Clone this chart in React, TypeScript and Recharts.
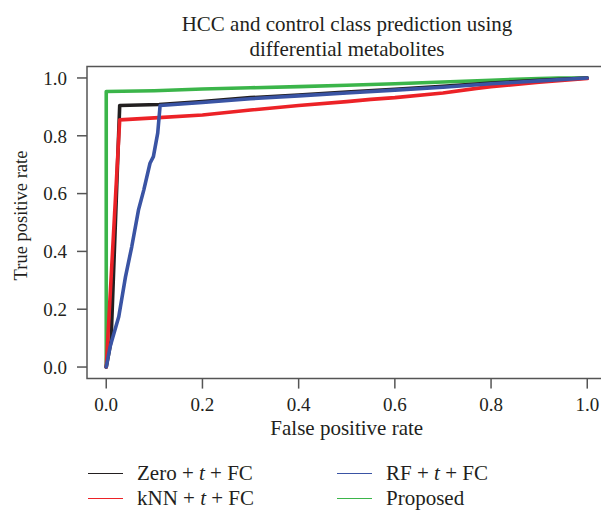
import { LineChart, Line, XAxis, YAxis, ReferenceArea } from "recharts";

// ROC curves (x = false positive rate, y = true positive rate)
const zeroFpr = [0, 0.01, 0.028, 0.11, 0.2, 0.3, 0.4, 0.5, 0.6, 0.7, 0.8, 0.9, 1];
const zeroTpr = [0, 0.09, 0.905, 0.908, 0.918, 0.932, 0.941, 0.951, 0.961, 0.971, 0.982, 0.992, 1];

const knnFpr = [0, 0.028, 0.1, 0.2, 0.3, 0.4, 0.5, 0.55, 0.6, 0.7, 0.77, 0.8, 0.9, 1];
const knnTpr = [0, 0.855, 0.862, 0.872, 0.889, 0.905, 0.918, 0.926, 0.932, 0.948, 0.964, 0.97, 0.985, 0.998];

const rfFpr = [0, 0.008, 0.026, 0.04, 0.053, 0.067, 0.078, 0.091, 0.098, 0.107, 0.112, 0.2, 0.3, 0.4, 0.5, 0.6, 0.7, 0.8, 0.9, 1];
const rfTpr = [0, 0.07, 0.174, 0.312, 0.416, 0.543, 0.612, 0.705, 0.728, 0.809, 0.905, 0.915, 0.928, 0.938, 0.948, 0.958, 0.968, 0.98, 0.99, 1];

const propFpr = [0, 0, 0.1, 0.2, 0.3, 0.4, 0.5, 0.6, 0.7, 0.8, 0.9, 0.94, 1];
const propTpr = [0, 0.953, 0.956, 0.962, 0.966, 0.97, 0.975, 0.98, 0.986, 0.992, 0.998, 1, 1];

const xTicks = [0, 0.2, 0.4, 0.6, 0.8, 1];
const yTicks = [0, 0.2, 0.4, 0.6, 0.8, 1];

const SERIF = '"Liberation Serif", "DejaVu Serif", serif';
const INK = "#231F20";
const BOX = "#555";

function toPoints(xs: number[], ys: number[]) {
  return xs.map((x, i) => ({ x, y: ys[i] }));
}

const series = [
  { key: "zero", label: ["Zero + ", "t", " + FC"], color: "#231F20", data: toPoints(zeroFpr, zeroTpr) },
  { key: "knn", label: ["kNN + ", "t", " + FC"], color: "#EC2227", data: toPoints(knnFpr, knnTpr) },
  { key: "rf", label: ["RF + ", "t", " + FC"], color: "#3A54A4", data: toPoints(rfFpr, rfTpr) },
  { key: "prop", label: ["Proposed"], color: "#3BB54A", data: toPoints(propFpr, propTpr) },
];

// draw order: green first, then black, red, blue on top
const drawOrder = ["prop", "zero", "knn", "rf"];

const fmt = (v: number) => v.toFixed(1);

function YTitle({ viewBox }: any) {
  const cx = 20.5;
  const cy = viewBox.y + viewBox.height / 2 - 7;
  return (
    <text
      x={cx}
      y={cy}
      dy="0.35em"
      transform={`rotate(-90 ${cx} ${cy})`}
      textAnchor="middle"
      fontFamily={SERIF}
      fontSize={18.5}
      fill={INK}
    >
      True positive rate
    </text>
  );
}

function LegendItem({ s }: { s: (typeof series)[number] }) {
  return (
    <div style={{ display: "flex", alignItems: "center", height: 25 }}>
      <div style={{ width: 35, height: 1.5, background: s.color, marginRight: 14 }} />
      <span>
        {s.label.map((part, i) =>
          part === "t" ? <i key={i}>t</i> : <span key={i}>{part}</span>
        )}
      </span>
    </div>
  );
}

export default function App() {
  const byKey = (k: string) => series.find((s) => s.key === k)!;
  return (
    <div
      style={{
        position: "absolute",
        left: 0,
        top: 0,
        width: 601,
        height: 511,
        overflow: "hidden",
        background: "#fff",
        fontFamily: SERIF,
        color: INK,
      }}
    >
      <div
        style={{
          position: "absolute",
          left: 147,
          top: 12,
          width: 400,
          textAlign: "center",
          fontSize: 21,
          lineHeight: "25px",
        }}
      >
        HCC and control class prediction using
        <br />
        differential metabolites
      </div>

      <LineChart
        width={620}
        height={511}
        margin={{ top: 66.4, right: 13.5, bottom: 72.4, left: 0 }}
        style={{ position: "absolute", left: 0, top: 0 }}
      >
        <XAxis
          dataKey="x"
          type="number"
          domain={[-0.04, 1.04]}
          ticks={xTicks}
          tickFormatter={fmt}
          axisLine={false}
          tickSize={10}
          tickMargin={9}
          tickLine={{ stroke: BOX, strokeWidth: 1.5 }}
          tick={{ fontFamily: SERIF, fontSize: 19, fill: INK }}
          height={60}
          allowDataOverflow
          label={{
            value: "False positive rate",
            position: "insideBottom",
            offset: 3.6,
            fontFamily: SERIF,
            fontSize: 21,
            fill: INK,
          }}
        />
        <YAxis
          dataKey="y"
          type="number"
          domain={[-0.04, 1.04]}
          ticks={yTicks}
          tickFormatter={fmt}
          axisLine={false}
          tickSize={10}
          tickMargin={10}
          tickLine={{ stroke: BOX, strokeWidth: 1.5 }}
          tick={{ fontFamily: SERIF, fontSize: 19, fill: INK }}
          width={87}
          allowDataOverflow
          label={<YTitle />}
        />
        <ReferenceArea
          x1={-0.04}
          x2={1.04}
          y1={-0.04}
          y2={1.04}
          fill="none"
          stroke={BOX}
          strokeWidth={1.5}
          ifOverflow="visible"
        />
        {drawOrder.map((k) => {
          const s = byKey(k);
          return (
            <Line
              key={s.key}
              data={s.data}
              dataKey="y"
              type="linear"
              stroke={s.color}
              strokeWidth={3.6}
              strokeLinejoin="round"
              strokeLinecap="round"
              dot={false}
              isAnimationActive={false}
            />
          );
        })}
      </LineChart>

      <div
        style={{
          position: "absolute",
          left: 88,
          top: 461,
          display: "grid",
          gridTemplateColumns: "249px auto",
          gridTemplateRows: "25px 25px",
          gridAutoFlow: "column",
          fontSize: 21,
          lineHeight: "25px",
        }}
      >
        {series.map((s) => (
          <LegendItem key={s.key} s={s} />
        ))}
      </div>
    </div>
  );
}
